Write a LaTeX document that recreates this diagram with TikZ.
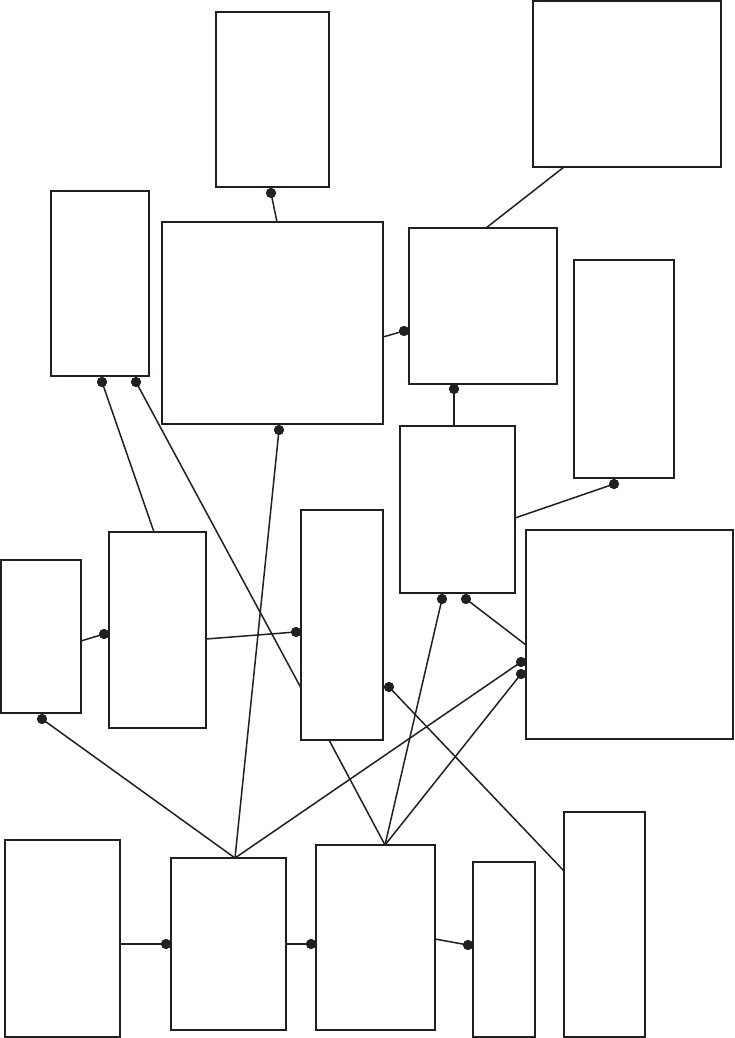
\documentclass[tikz,border=0pt]{standalone}
\usetikzlibrary{calc}
\definecolor{ink}{HTML}{231F20}
\tikzset{
  box/.style={draw=ink, line width=1.4pt, fill=white, inner sep=0pt, outer sep=0pt},
  con/.style={draw=ink, line width=1.5pt},
  dot/.style={circle, fill=ink, minimum size=10pt, inner sep=0pt, outer sep=0pt}
}
\begin{document}
\begin{tikzpicture}[x=1pt,y=-1pt]
\useasboundingbox (0,0) rectangle (734,1038);
% boxes
\node[box, minimum width=113pt, minimum height=175pt] (A) at (272.5,99.5) {};
\node[box, minimum width=98pt,  minimum height=185pt] (B) at (100,283.5) {};
\node[box, minimum width=221pt, minimum height=202pt] (C) at (272.5,323) {};
\node[box, minimum width=188pt, minimum height=166pt] (D) at (627,84) {};
\node[box, minimum width=148pt, minimum height=156pt] (E) at (483,306) {};
\node[box, minimum width=100pt, minimum height=218pt] (F) at (624,369) {};
\node[box, minimum width=115pt, minimum height=167pt] (G) at (457.5,509.5) {};
\node[box, minimum width=207pt, minimum height=209pt] (H) at (629.5,634.5) {};
\node[box, minimum width=80pt,  minimum height=153pt] (I) at (41,636.5) {};
\node[box, minimum width=97pt,  minimum height=196pt] (J) at (157.5,630) {};
\node[box, minimum width=82pt,  minimum height=230pt] (K) at (342,625) {};
\node[box, minimum width=115pt, minimum height=197pt] (L) at (62.5,938.5) {};
\node[box, minimum width=115pt, minimum height=172pt] (M) at (228.5,944) {};
\node[box, minimum width=119pt, minimum height=185pt] (N) at (375.5,937.5) {};
\node[box, minimum width=62pt,  minimum height=175pt] (O) at (504,949.5) {};
\node[box, minimum width=81pt,  minimum height=225pt] (P) at (604.5,924.5) {};
% dots
\node[dot] (dA)  at (271,193) {};
\node[dot] (dB1) at (102,382) {};
\node[dot] (dB2) at (136,382) {};
\node[dot] (dC)  at (279,430) {};
\node[dot] (dE1) at (404,331) {};
\node[dot] (dE2) at (454,389) {};
\node[dot] (dF)  at (614,484) {};
\node[dot] (dG1) at (442,599) {};
\node[dot] (dG2) at (466,599) {};
\node[dot] (dH1) at (521,662) {};
\node[dot] (dH2) at (521,674) {};
\node[dot] (dK1) at (389,687) {};
\node[dot] (dK2) at (296,632) {};
\node[dot] (dJ)  at (104,634) {};
\node[dot] (dI)  at (42,719) {};
\node[dot] (dM)  at (166,944) {};
\node[dot] (dN)  at (311,944) {};
\node[dot] (dO)  at (468,945) {};
% connectors
\draw[con] (dA.center) -- (C.north -| 277,0);
\draw[con] (dB1.center) -- (J.north -| 154,0);
\draw[con] (dB2.center) -- (K.west |- 0,688);
\draw[con] (dC.center) -- (M.north -| 235,0);
\draw[con] (C.east |- 0,337) -- (dE1.center);
\draw[con] (D.south -| 564,0) -- (E.north -| 486,0);
\draw[con] (dE2.center) -- (G.north -| 454,0);
\draw[con] (G.east |- 0,518) -- (dF.center);
\draw[con] (dG1.center) -- (N.north -| 385,0);
\draw[con] (dG2.center) -- (H.west |- 0,645);
\draw[con] (dH1.center) -- (M.north -| 235,0);
\draw[con] (dH2.center) -- (N.north -| 385,0);
\draw[con] (dK1.center) -- (P.west |- 0,871);
\draw[con] (K.south -| 329,0) -- (N.north -| 385,0);
\draw[con] (I.east |- 0,641) -- (dJ.center);
\draw[con] (J.east |- 0,639) -- (dK2.center);
\draw[con] (dI.center) -- (M.north -| 235,0);
\draw[con] (L.east |- 0,944) -- (dM.center);
\draw[con] (M.east |- 0,944) -- (dN.center);
\draw[con] (N.east |- 0,939) -- (dO.center);
% redraw dots on top
\foreach \d in {dA,dB1,dB2,dC,dE1,dE2,dF,dG1,dG2,dH1,dH2,dK1,dK2,dJ,dI,dM,dN,dO}
  \fill[ink] (\d) circle (5pt);
\end{tikzpicture}
\end{document}
